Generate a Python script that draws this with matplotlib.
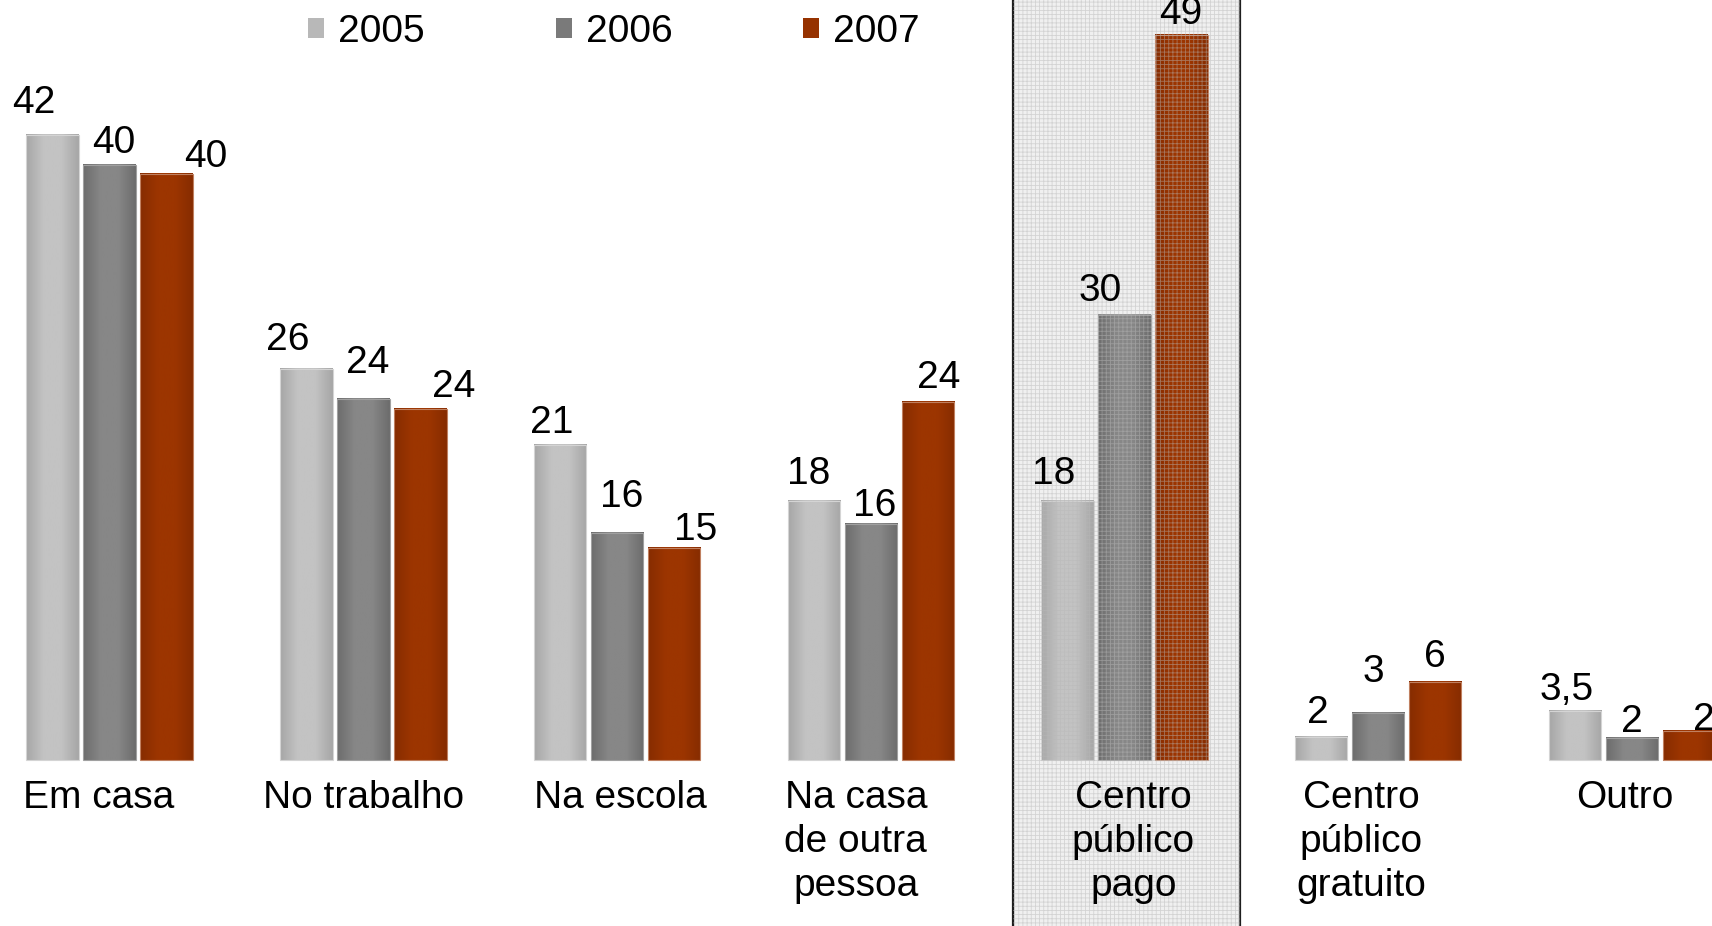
import numpy as np
import matplotlib
matplotlib.use("Agg")
import matplotlib.pyplot as plt
from matplotlib.patches import Rectangle, Patch
from matplotlib.colors import LinearSegmentedColormap

# ---------------- data ----------------
categories = ["Em casa", "No trabalho", "Na escola", "Na casa\nde outra\npessoa",
              "Centro\npúblico\npago", "Centro\npúblico\ngratuito", "Outro"]
years = ["2005", "2006", "2007"]
v2005 = [42.0, 26.3, 21.2, 17.4, 17.4, 1.6, 3.3]
v2006 = [40.0, 24.3, 15.3, 15.9, 29.9, 3.2, 1.5]
v2007 = [39.4, 23.6, 14.3, 24.1, 48.7, 5.3, 2.0]
lab2005 = ["42", "26", "21", "18", "18", "2", "3,5"]
lab2006 = ["40", "24", "16", "16", "30", "3", "2"]
lab2007 = ["40", "24", "15", "24", "49", "6", "2"]
highlight = "Centro\npúblico\npago"

# ---------------- style ----------------
plt.rcParams["font.family"] = ["Liberation Sans", "DejaVu Sans"]
plt.rcParams["hatch.linewidth"] = 0.6
FS = 28

series = [v2005, v2006, v2007]
labels = [lab2005, lab2006, lab2007]
grad = [("#a6a6a6", "#c3c3c3"), ("#6c6c6c", "#878787"), ("#862c00", "#9c3500")]
legend_cols = ["#b8b8b8", "#7a7a7a", "#963200"]
edge_cols = ["#d4d4d4", "#a0a0a0", "#c08060"]
# label offsets in pixels (dx, dy above bar top to digit baseline)
lab_dx = [[-18.5, -18.7, -8, -5.4, -13.6, -3.4, -8.3],
          [4.5, 4.5, 5, 4.3, -24, -4.6, -0.3],
          [39, 32.8, 21.5, 11, -1, 0, 14.6]]
lab_dy = [[22, 19.3, 11.7, 17.7, 17.7, 13.4, 11],
          [11.7, 26, 26, 7.3, 14, 31, 6.6],
          [6.6, 12, 7.8, 13.7, 11.7, 14.3, 0.7]]
cat_dx = [-11, 0, 3, -15, 9, -17, -7]

fig = plt.figure(figsize=(17.12, 9.26), dpi=100)
ax = fig.add_axes([0, 0, 1, 1])
ax.axis("off")

x = np.arange(len(categories))
width = 0.207
offsets = [-0.2247, 0.0, 0.2247]
g = np.linspace(0, 1, 128).reshape(1, -1)

# highlight box (background)
hi = categories.index(highlight)
box_half = 0.448
ax.add_patch(Rectangle((hi - box_half + 0.0075, -30), 2 * box_half, 100,
                       facecolor="#f0f0f0", edgecolor="#1e1e1e", lw=1.6, zorder=1))

for s, (vals, labs) in enumerate(zip(series, labels)):
    cmap = LinearSegmentedColormap.from_list(
        f"g{s}", [grad[s][0], grad[s][1], grad[s][1], grad[s][0]], N=256)
    bars = ax.bar(x + offsets[s], vals, width, facecolor="none",
                  edgecolor=edge_cols[s], linewidth=0.8, zorder=3)
    for i, r in enumerate(bars):
        ax.imshow(g, extent=(r.get_x(), r.get_x() + r.get_width(), 0, r.get_height()),
                  cmap=cmap, aspect="auto", interpolation="bilinear", zorder=2)
        ax.annotate(labs[i], xy=(r.get_x() + r.get_width() / 2, r.get_height()),
                    xytext=(lab_dx[s][i], lab_dy[s][i]), textcoords="offset pixels",
                    ha="center", va="baseline", fontsize=FS, color="black", zorder=6)

# pattern overlay on the highlight box
ax.add_patch(Rectangle((hi - box_half + 0.0075, -30), 2 * box_half, 100,
                       facecolor="none", edgecolor=(0.72, 0.72, 0.72, 0.5),
                       hatch="++++", lw=0, zorder=4))

# category labels
for i, c in enumerate(categories):
    ax.annotate(c, xy=(i, 0), xytext=(cat_dx[i], -20), textcoords="offset pixels",
                ha="center", va="top", fontsize=FS, linespacing=1.28,
                multialignment="center", color="black", zorder=6)

# legend
handles = [Patch(facecolor=legend_cols[k], edgecolor="none", label=years[k]) for k in range(3)]
ax.legend(handles=handles, loc="upper left", bbox_to_anchor=(308 / 1712, 1 - 13.5 / 926),
          bbox_transform=fig.transFigure, ncol=3, frameon=False, fontsize=FS,
          borderpad=0, borderaxespad=0, handlelength=0.41, handleheight=0.41,
          handletextpad=0.36, columnspacing=3.37)

ax.set_xlim(-0.4324, 6.3157)
ax.set_ylim(-11.115, 51.075)

fig.savefig("out.png", dpi=100)
